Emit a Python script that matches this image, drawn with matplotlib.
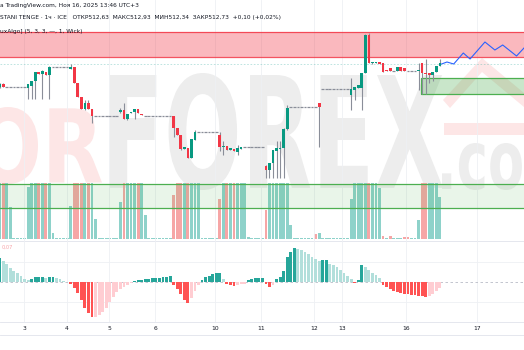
import numpy as np
import matplotlib.pyplot as plt
from matplotlib.textpath import TextPath
from matplotlib.patches import PathPatch, Rectangle, Polygon
from matplotlib.font_manager import FontProperties
from matplotlib.transforms import Affine2D

# *** hourly candles (USD/KZT, ICE) ***
opens = ([512.26, 512.32] + [512.26] * 6 +
         [512.24, 512.28, 512.38, 512.56, 512.52, 512.56, 512.50] + [512.67] * 5 +
         [512.62, 512.66, 512.34, 512.06, 511.82, 511.94, 511.82] + [511.68] * 7 +
         [511.76, 511.80, 511.62, 511.74, 511.76, 511.82, 511.72] + [511.68] * 8 +
         [511.68, 511.44, 511.30, 511.02, 511.04, 510.84, 511.20] + [511.36] * 6 +
         [511.30, 511.06, 511.08, 511.00, 511.02, 510.96, 511.02] + [511.06] * 6 +
         [510.68, 510.60, 510.74, 510.98, 511.03, 511.04, 511.42] + [511.86] * 8 +
         [511.94] + [512.22] * 8 +
         [512.10, 512.20, 512.24, 512.24, 512.54, 513.30, 512.74, 512.74,
          512.76, 512.74, 512.60, 512.64, 512.58, 512.58, 512.66, 512.64] + [512.58] * 3 +
         [512.58, 512.74, 512.54, 512.54, 512.50, 512.56, 512.68])
highs = ([512.34, 512.34] + [512.26] * 6 +
         [512.32, 512.38, 512.56, 512.56, 512.60, 512.56, 512.68] + [512.67] * 5 +
         [512.72, 512.66, 512.34, 512.06, 512.00, 512.00, 511.82] + [511.68] * 7 +
         [511.84, 511.94, 511.72, 511.76, 511.82, 511.82, 511.72] + [511.68] * 8 +
         [511.68, 511.44, 511.30, 511.06, 511.04, 511.22, 511.40] + [511.36] * 6 +
         [511.36, 511.18, 511.08, 511.04, 511.02, 511.10, 511.06] + [511.06] * 6 +
         [510.70, 510.74, 511.00, 511.18, 511.18, 511.44, 511.90] + [511.86] * 8 +
         [511.94] + [512.22] * 8 +
         [512.44, 512.26, 512.30, 512.54, 513.32, 513.34, 512.76, 512.76,
          512.76, 512.74, 512.60, 512.64, 512.58, 512.66, 512.66, 512.64] + [512.58] * 3 +
         [512.74, 512.74, 512.82, 512.54, 512.56, 512.68, 512.82])
lows = ([512.24, 512.26] + [512.26] * 6 +
        [512.02, 512.02, 512.02, 512.52, 512.02, 512.50, 512.02] + [512.67] * 5 +
        [512.62, 512.34, 512.06, 511.82, 511.80, 511.82, 511.54] + [511.68] * 7 +
        [511.74, 511.62, 511.60, 511.74, 511.62, 511.74, 511.70] + [511.68] * 8 +
        [511.26, 511.30, 511.00, 511.02, 510.84, 510.84, 511.20] + [511.36] * 6 +
        [510.98, 510.90, 511.00, 511.00, 510.98, 510.90, 511.02] + [511.06] * 6 +
        [510.44, 510.44, 510.44, 510.44, 510.44, 510.44, 511.40] + [511.86] * 8 +
        [511.06] + [512.22] * 8 +
        [511.80, 512.00, 512.24, 511.80, 512.54, 512.74, 512.72, 512.74,
         512.72, 512.56, 512.58, 512.58, 512.58, 512.58, 512.58, 512.58] + [512.58] * 3 +
        [512.20, 512.12, 512.12, 512.34, 512.38, 512.56, 512.68])
closes = ([512.32, 512.26] + [512.26] * 6 +
          [512.32, 512.38, 512.56, 512.52, 512.58, 512.50, 512.66] + [512.67] * 5 +
          [512.66, 512.34, 512.06, 511.82, 511.94, 511.82, 511.68] + [511.68] * 7 +
          [511.80, 511.62, 511.72, 511.76, 511.82, 511.74, 511.70] + [511.68] * 8 +
          [511.44, 511.30, 511.02, 511.06, 510.84, 511.22, 511.36] + [511.36] * 6 +
          [511.06, 511.08, 511.00, 511.04, 510.98, 511.04, 511.06] + [511.06] * 6 +
          [510.60, 510.74, 511.00, 511.04, 511.05, 511.42, 511.84] + [511.86] * 8 +
          [511.86] + [512.22] * 8 +
          [512.22, 512.26, 512.30, 512.54, 513.30, 512.74, 512.76, 512.75,
           512.72, 512.56, 512.59, 512.58, 512.58, 512.66, 512.58, 512.58] + [512.58] * 3 +
          [512.58, 512.54, 512.52, 512.50, 512.56, 512.68, 512.74])

# volume (relative, clipped at the pane top) and its up/down colouring
volume = ([1.0, 1.0, 1.0, 0.57] + [0.02] * 4 +
          [0.93, 1.0, 1.0, 1.0, 1.03, 1.0, 1.0, 0.1] + [0.02] * 4 +
          [0.59, 1.0, 1.0, 1.0, 1.0, 1.0, 1.0, 0.36] + [0.02] * 6 +
          [0.66, 1.0, 1.0, 1.0, 1.0, 1.0, 1.0, 0.43] + [0.02] * 7 +
          [0.79, 1.0, 1.0, 1.0, 1.0, 1.0, 1.0, 1.0] + [0.02] * 5 +
          [0.71, 1.0, 1.0, 1.0, 1.0, 1.0, 1.0, 1.0, 0.04] + [0.02] * 4 +
          [0.52, 1.0, 1.0, 1.0, 1.0, 1.0, 1.0, 0.25] + [0.02] * 6 +
          [0.09, 0.11] + [0.02] * 8 +
          [0.71, 1.0, 1.0, 1.0, 1.0, 1.0, 1.0, 1.0, 0.91] +
          [0.05, 0.02, 0.05, 0.02, 0.02, 0.02, 0.03, 0.03, 0.02, 0.02] +
          [0.34, 1.0, 1.0, 1.0, 1.0, 1.0, 0.75])
vol_dir = ("uduuuuuuuu" "ududuuuuuu" "uddduduuuu" "uuuuuduuud" "uuuuuuuuud"
           "dduduuuuuu" "uudududuuu" "uuuuuduuuu" "uuuuuuuuud" "uuuuuuuuuu"
           "uuuuduuudu" "duuudduuud" "duuuu")

# oscillator histogram
hist = [0.048, 0.042, 0.036, 0.028, 0.022, 0.018, 0.012, 0.006, 0.004, 0.006,
        0.010, 0.010, 0.010, 0.008, 0.010, 0.010, 0.008, 0.006, 0.002, 0.001,
        -0.003, -0.012, -0.022, -0.036, -0.052, -0.062, -0.070, -0.070, -0.066, -0.060,
        -0.052, -0.040, -0.030, -0.020, -0.014, -0.010, -0.006, -0.002, 0.002, 0.004,
        0.004, 0.006, 0.006, 0.008, 0.008, 0.009, 0.010, 0.010, 0.012, -0.006,
        -0.014, -0.024, -0.036, -0.042, -0.032, -0.018, -0.006, 0.004, 0.010, 0.012,
        0.016, 0.018, 0.019, 0.006, -0.004, -0.006, -0.008, -0.006, -0.004, -0.003,
        0.004, 0.007, 0.009, 0.009, 0.009, -0.004, -0.010, -0.006, 0.006, 0.010,
        0.022, 0.050, 0.060, 0.068, 0.066, 0.064, 0.060, 0.056, 0.050, 0.046,
        0.042, 0.044, 0.044, 0.036, 0.034, 0.030, 0.024, 0.018, 0.012, 0.006,
        -0.002, 0.004, 0.034, 0.030, 0.024, 0.018, 0.014, 0.008, -0.006, -0.010,
        -0.014, -0.017, -0.020, -0.022, -0.023, -0.024, -0.025, -0.026, -0.027, -0.028,
        -0.030, -0.028, -0.024, -0.018, -0.012]

# projected path (blue line)
proj_x = [124.5, 126.0, 127.9, 130.6, 132.5, 136.7, 139.5, 141.7, 145.6, 147.7]
proj_y = [512.72, 512.76, 512.72, 512.94, 512.82, 513.16, 513.00, 513.10, 512.88, 513.04]

# zones
red_zone = (512.86, 513.36)
green_zone = (512.12, 512.44)
green_zone_start = 118.7
low_zone = (509.84, 510.32)
last_price = 512.73

tick_pos = [6.85, 18.96, 30.79, 43.75, 60.65, 73.6, 88.54, 96.4, 114.45, 134.45]
tick_labels = ["3", "4", "5", "6", "10", "11", "12", "13", "16", "17"]

W, H = 524, 350
XLIM = (0.085, 147.7)
UP, DN = "#089981", "#F23645"
GRID = "#EEF0F4"

fig = plt.figure(figsize=(W / 100, H / 100), dpi=100)
fig.patch.set_facecolor("white")


def frac(y0, y1):
    # pixel rows (top-down) -> figure bottom/height
    return 1 - y1 / H, (y1 - y0) / H


# *** watermark (pixel coordinates) ***
bg = fig.add_axes([0, 0, 1, 1], zorder=0)
bg.set_xlim(0, W)
bg.set_ylim(H, 0)
bg.axis("off")
bold = FontProperties(family="DejaVu Sans", weight="bold")


def stamp(s, x0, x1, y0, y1, color):
    tp = TextPath((0, 0), s, size=100, prop=bold)
    bb = tp.get_extents()
    tr = (Affine2D().translate(-bb.x0, -bb.y0)
          .scale((x1 - x0) / bb.width, -(y1 - y0) / bb.height)
          .translate(x0, y1))
    bg.add_patch(PathPatch(tr.transform_path(tp), fc=color, ec="none"))


stamp("OR", -22, 102, 107, 184, "#FDE6E6")
stamp("FOREX", 110, 443, 73, 190, "#EDEDED")
stamp(".com", 442, 575, 143, 190, "#EDEDED")
bg.add_patch(Polygon([[443, 100], [482, 58], [530, 98], [530, 112], [482, 72], [450, 108]],
                     closed=True, fc="#FDE6E6", ec="none"))
bg.add_patch(Rectangle((444, 123), 90, 12, fc="#FDE6E6", ec="none"))

# *** volume pane ***
b, h = frac(183, 239)
axv = fig.add_axes([0, b, 1, h], zorder=1)
axv.set_facecolor("none")
x = np.arange(len(opens))
vcol = ["#8ED2CA" if d == "u" else "#F6A6A6" for d in vol_dir]
axv.bar(x, volume, width=0.8, color=vcol, linewidth=0)
axv.set_xlim(*XLIM)
axv.set_ylim(0, 1)
axv.axis("off")

# *** price pane ***
b, h = frac(0, 241)
ax = fig.add_axes([0, b, 1, h], zorder=2)
ax.set_facecolor("none")
ax.set_xlim(*XLIM)
ax.set_ylim(509.18, 514.0)
for t in tick_pos:
    ax.axvline(t, color=GRID, lw=0.6, zorder=0)

ax.axhspan(*red_zone, color="#F23645", alpha=0.35, lw=0, zorder=1)
for lvl in red_zone:
    ax.axhline(lvl, color="#F23645", lw=0.9, alpha=0.85, zorder=1)
ax.add_patch(Rectangle((green_zone_start, green_zone[0]), XLIM[1] - green_zone_start + 1,
                       green_zone[1] - green_zone[0], fc="#4CAF50", alpha=0.3, lw=0, zorder=1))
ax.add_patch(Rectangle((green_zone_start, green_zone[0]), XLIM[1] - green_zone_start + 1,
                       green_zone[1] - green_zone[0], fc="none", ec="#4CAF50", lw=0.9, zorder=1))
ax.axhspan(*low_zone, color="#4CAF50", alpha=0.12, lw=0, zorder=1)
for lvl in low_zone:
    ax.axhline(lvl, color="#4CAF50", lw=0.9, zorder=1)
ax.axhline(last_price, color="#26A69A", lw=0.6, ls=(0, (2, 2)), alpha=0.35, zorder=1)

o, hi, lo, c = map(np.array, (opens, highs, lows, closes))
flat = (o == hi) & (hi == lo) & (lo == c)
moving = ~flat
ax.vlines(x[moving], lo[moving], hi[moving], color="#8A8E99", lw=0.8, zorder=3)
up = moving & (c >= o)
dn = moving & (c < o)
for m, col in ((up, UP), (dn, DN)):
    body = np.maximum(np.abs(c[m] - o[m]), 0.012)
    ax.bar(x[m], body, bottom=np.minimum(o[m], c[m]), width=0.75, color=col,
           lw=0, zorder=4)
ax.hlines(c[flat], x[flat] - 0.38, x[flat] + 0.38, color="#8A8E99", lw=0.9, zorder=3)
ax.plot(proj_x, proj_y, color="#2962FF", lw=0.8, zorder=5)
ax.axis("off")

# *** oscillator pane ***
b, h = frac(241, 322)
axm = fig.add_axes([0, b, 1, h], zorder=2)
axm.set_facecolor("none")
hv = np.array(hist)
prev = np.concatenate([[hv[0]], hv[:-1]])
hcol = []
for v, p in zip(hv, prev):
    if v >= 0:
        hcol.append("#26A69A" if v >= p else "#B2DFDB")
    else:
        hcol.append("#FF5252" if v < p else "#FFCDD2")
axm.bar(np.arange(len(hv)), hv, width=0.8, color=hcol, lw=0, zorder=3)
axm.axhline(0, color="#B8BCC6", lw=0.6, ls=(0, (3, 3)), zorder=1)
for lvl in (0.04, -0.04, -0.08):
    axm.axhline(lvl, color=GRID, lw=0.6, zorder=0)
axm.set_xlim(*XLIM)
axm.set_ylim(-0.080, 0.082)
axm.set_xticks(tick_pos)
axm.set_xticklabels(tick_labels, fontsize=4.3, color="#131722")
axm.tick_params(axis="x", length=0, pad=3)
axm.set_yticks([])
axm.grid(axis="x", color=GRID, lw=0.6)
axm.set_axisbelow(True)
for s in axm.spines.values():
    s.set_visible(False)
axm.text(0.004, 0.955, "0,07", transform=axm.transAxes, fontsize=3.6,
         color="#F7A1A6", va="top")

# pane separators
for yy in (241, 322, 335):
    fig.add_artist(plt.Line2D([0, 1], [1 - yy / H] * 2, color="#E0E3EB", lw=0.6))

# *** header ***
hdr = dict(fontsize=4.2, color="#131722", va="center", ha="left", family="DejaVu Sans")
fig.text(0.0, 1 - 5 / H, "а TradingView.com, Ноя 16, 2025 13:46 UTC+3", **hdr)
fig.text(0.0, 1 - 17 / H, "STANI TENGE · 1ч · ICE   ОТКР512,63  МАКС512,93  МИН512,34  ЗАКР512,73  +0,10 (+0,02%)", **hdr)
fig.text(0.0, 1 - 32 / H, "uxAlgo] (5, 3, 3, —, 1, Wick)", **hdr)

fig.savefig("out.png", dpi=100)
